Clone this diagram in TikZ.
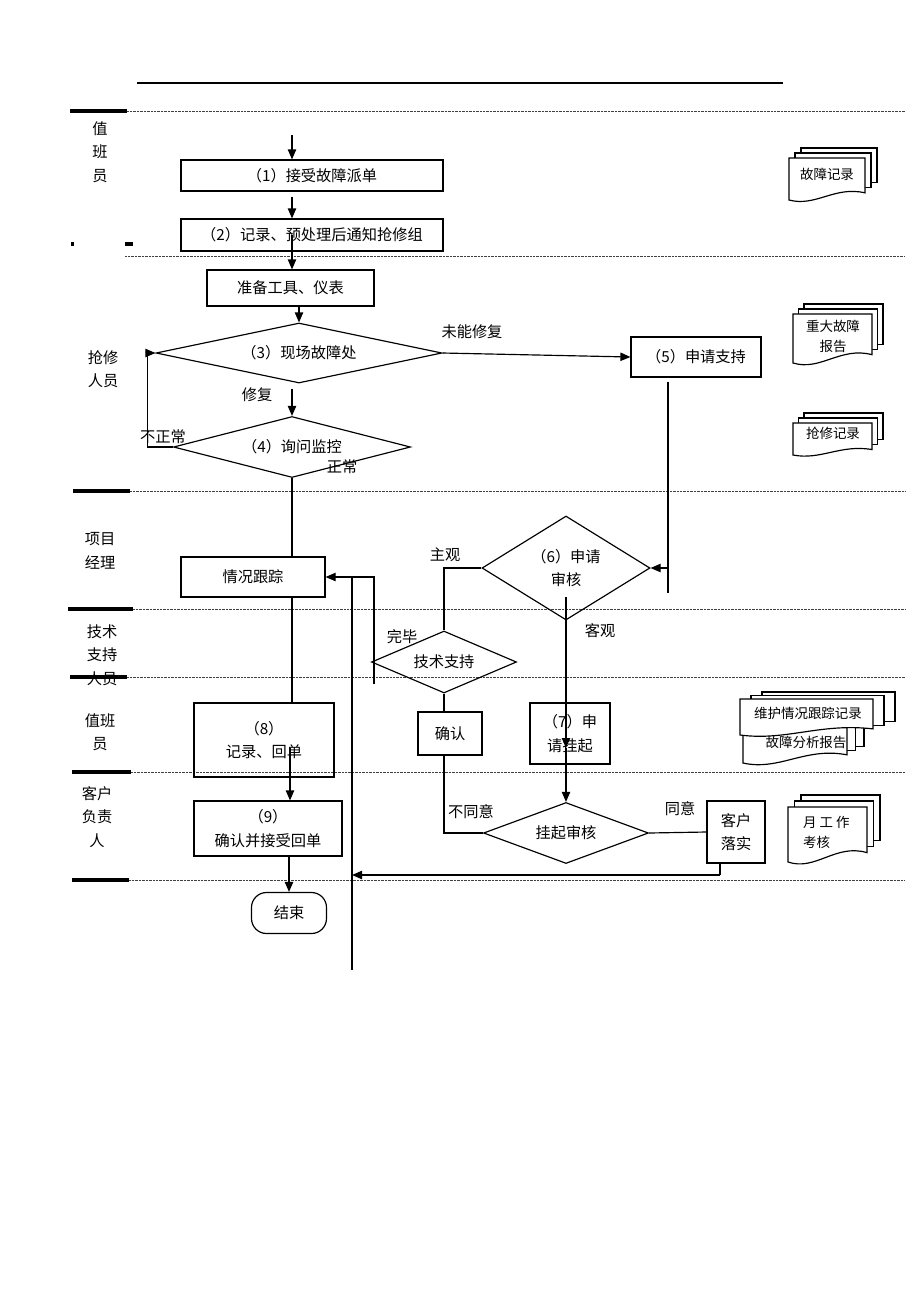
\documentclass[tikz,border=0pt]{standalone}
\usepackage{fontspec}
\setmainfont{Noto Sans CJK SC}
\usetikzlibrary{shapes.geometric, arrows.meta}
\tikzset{
    >={Triangle[length=3mm, width=2.5mm]},
    every node/.style={font=\fontsize{13}{20}\selectfont},
    link/.style={line width=1pt},
    box/.style={draw, link, inner sep=1pt, align=center},
    choice/.style={draw, link, diamond, inner sep=0pt, align=center},
    lanemark/.style={line width=3.4pt},
    laneline/.style={line width=0.5pt, black!75, dash pattern=on 0.6pt off 0.6pt},
    doctext/.style={font=\fontsize{11.5}{17}\selectfont, align=center},
}
% left, top, right, bottom, x offset, y offset of a stack of three documents
\newcommand{\docstack}[6]{%
    \pgfmathsetmacro{\wavedepth}{0.17*(#4-#2)}
    \draw[link, fill=white] ({#1+2*#5},{#2-2*#6}) rectangle ({#3+2*#5},{#4-\wavedepth-2*#6});
    \draw[link, fill=white] ({#1+#5},{#2-#6}) rectangle ({#3+#5},{#4-\wavedepth-#6});
    \draw[link, fill=white] (#1,#2) -- (#3,#2) -- (#3,{#4-\wavedepth})
        .. controls ({#1+0.6*(#3-#1)},{#4-2*\wavedepth}) and ({#1+0.35*(#3-#1)},{#4+\wavedepth}) .. (#1,#4) -- cycle;
}

\begin{document}
\begin{tikzpicture}[x=0.03cm, y=-0.03cm]
\useasboundingbox (0,0) rectangle (920,1302);

\draw[link] (137,83) -- (783,83);

\node[align=center] (lzb) at (100,152) {值\\班\\员};
\node[align=center] (lqx) at (103,369) {抢修\\人员};
\node[align=center] (lxm) at (100,551) {项目\\经理};
\node[align=center] (ljs) at (102,655) {技术\\支持\\人员};
\node[align=center] (lzb2) at (100,732) {值班\\员};
\node[align=center] (lkh) at (97,817) {客户\\负责\\人};

\draw[lanemark] (70,111) -- (127,111);
\draw[laneline] (127,111) -- (905,111);
\draw[lanemark] (71,244) -- (74,244);
\draw[lanemark] (125,244) -- (133,244);
\draw[laneline] (125,256) -- (905,256);
\draw[lanemark] (73,491) -- (130,491);
\draw[laneline] (130,491) -- (905,491);
\draw[lanemark] (68,609) -- (133,609);
\draw[laneline] (133,609) -- (905,609);
\draw[lanemark] (70,677) -- (127,677);
\draw[laneline] (127,677) -- (905,677);
\draw[lanemark] (72,772) -- (131,772);
\draw[laneline] (131,772) -- (905,772);
\draw[lanemark] (72,880) -- (129,880);
\draw[laneline] (129,880) -- (905,880);

\node[box, minimum width=7.86cm, minimum height=0.93cm] (s1) at (312,175.5) {（1）接受故障派单};
\node[box, minimum width=7.86cm, minimum height=0.96cm] (s2) at (312,235) {（2）记录、预处理后通知抢修组};
\node[box, minimum width=5.01cm, minimum height=1.08cm] (s3) at (290.5,288) {准备工具、仪表};
\node[choice, aspect=4.77, minimum width=8.58cm, minimum height=1.8cm] (d3) at (299,353) {（3）现场故障处};
\node[choice, aspect=3.9, minimum width=7.11cm, minimum height=1.83cm] (d4) at (292,447) {（4）询问监控};
\node[box, minimum width=3.9cm, minimum height=1.2cm] (s5) at (696,357) {（5）申请支持};
\node[box, minimum width=4.32cm, minimum height=1.2cm] (gz) at (253,577) {情况跟踪};
\node[choice, aspect=1.6, minimum width=5.04cm, minimum height=3.12cm] (d6) at (566,568) {（6）申请\\审核};
\node[choice, aspect=2.34, minimum width=4.35cm, minimum height=1.86cm] (js) at (444,662) {技术支持};
\node[box, minimum width=1.92cm, minimum height=1.29cm] (qr) at (450,733.5) {确认};
\node[box, minimum width=2.4cm, minimum height=1.83cm] (s7) at (570,733.5) {（7）申\\请挂起};
\node[choice, aspect=2.7, minimum width=4.95cm, minimum height=1.83cm] (gq) at (566,833) {挂起审核};
\node[box, minimum width=1.74cm, minimum height=1.86cm] (kh) at (736,832) {客户\\落实};
\node[box, minimum width=4.2cm, minimum height=2.22cm] (s8) at (264,740) {（8）\\记录、回单};
\node[box, minimum width=4.44cm, minimum height=1.65cm] (s9) at (268,828.5) {（9）\\确认并接受回单};
\node[box, rounded corners=0.45cm, minimum width=2.25cm, minimum height=1.23cm] (fin) at (289,913) {结束};

\node (tnf) at (472,332) {未能修复};
\node (tfx) at (257,395) {修复};
\node (tbz) at (163,437) {不正常};
\node (tzc) at (342,467) {正常};
\node (tzg) at (445,555) {主观};
\node (tkg) at (600,631) {客观};
\node (twb) at (402,637) {完毕};
\node (tbt) at (471,812) {不同意};
\node (tty) at (680,809) {同意};

\coordinate (c0) at (292,135);
\coordinate (c5) at (668,593);
\coordinate (cr1) at (374,684);
\coordinate (cr2) at (352,970);
\coordinate (c6) at (566,597);
\coordinate (c7) at (566,748);
\coordinate (c8) at (290,748);
\coordinate (ck) at (720,875);

\draw[link, ->] (c0) -- (c0 |- s1.north);
\draw[link, ->, shorten <=1.5mm] (s1.south -| c0) -- (s2.north -| c0);
\draw[link, ->] (s2.center -| c0) -- (s3.north -| c0);
\draw[link, ->] (s3.south -| d3.north) -- (d3.north);
\draw[link, ->] (d3.east) -- (s5.west);
\draw[link, ->, shorten <=1.5mm] (d3.south -| d4.north) -- (d4.north);
\draw[link, ->] (d4.west) -- ++(-25,0) |- (d3.west);
\draw[link] (d4.south) -- (d4.south |- gz.north);
\draw[link] (d4.south |- gz.south) -- (d4.south |- s8.north);
\draw[link, shorten <=1.2mm] (s5.south -| c5) -- (c5);
\draw[link, ->] (c5 |- d6.east) -- (d6.east);
\draw[link, ->] (cr1) |- (gz.east);
\draw[link] (cr2) -- (cr2 |- gz.east);
\draw[link] (d6.west) -| (js.north);
\draw[link] (js.south) -- (js.south |- qr.north);
\draw[link] (js.south |- qr.south) |- (gq.west);
\draw[link, ->] (c6) -- (c7);
\draw[link, ->] (c7) -- (c7 |- gq.north);
\draw[link] (gq.east) -- (kh.west);
\draw[link] (kh.south -| ck) -- (ck);
\draw[link, ->] (ck) -- (ck -| cr2);
\draw[link, ->] (c8) -- (c8 |- s9.north);
\draw[link, ->] (s9.south -| fin.north) -- (fin.north);

\docstack{789}{158}{865}{200}{6}{5}
\node[doctext] (dgz) at (827,174) {故障记录};
\docstack{793}{314}{872}{363}{5.5}{5}
\node[doctext] (dzd) at (833,336) {重大故障\\报告};
\docstack{793}{423}{872}{455}{5.5}{5}
\node[doctext] (dqx) at (833,433) {抢修记录};
\docstack{743}{715}{847}{763}{8.5}{4}
\node[doctext] (dfx) at (806,742) {故障分析报告};
\docstack{740}{699}{873}{735}{11}{3.5}
\node[doctext] (dwh) at (808,713) {维护情况跟踪记录};
\docstack{788}{807}{867}{862}{6.5}{6}
\node[doctext, anchor=west, align=left] (dyk) at (799,832) {月 工 作\\考核};

\end{tikzpicture}
\end{document}
